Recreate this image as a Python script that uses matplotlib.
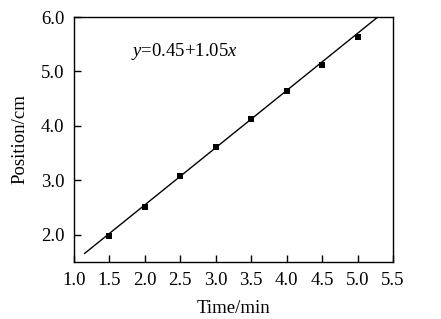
import matplotlib
matplotlib.use('Agg')
import matplotlib.pyplot as plt
import numpy as np

# data
time_min = [1.5, 2.0, 2.5, 3.0, 3.5, 4.0, 4.5, 5.0]
position_cm = [1.97, 2.51, 3.08, 3.61, 4.12, 4.64, 5.11, 5.63]
fit_a = 0.45
fit_b = 1.05
x_ticks = [1.0, 1.5, 2.0, 2.5, 3.0, 3.5, 4.0, 4.5, 5.0, 5.5]
y_ticks = [2.0, 3.0, 4.0, 5.0, 6.0]

plt.rcParams['font.family'] = 'Liberation Serif'
plt.rcParams['mathtext.fontset'] = 'custom'
plt.rcParams['mathtext.rm'] = 'Liberation Serif'
plt.rcParams['mathtext.it'] = 'Liberation Serif:italic'

fig = plt.figure(figsize=(4.41, 3.19), dpi=100)
ax = fig.add_axes([74 / 441, 1 - 262 / 319, 319 / 441, 245 / 319])

fx = np.array([1.15, 5.4])
ax.plot(fx, fit_a + fit_b * fx, color='black', lw=1.0)
ax.plot(time_min, position_cm, 's', color='black', ms=5, mew=0)

ax.set_xlim(1.0, 5.5)
ax.set_ylim(1.5, 6.0)
ax.set_xticks(x_ticks)
ax.set_xticklabels([f'{v:.1f}' for v in x_ticks])
ax.set_yticks(y_ticks)
ax.set_yticklabels([f'{v:.1f}' for v in y_ticks])
ax.tick_params(direction='in', length=5, width=1, labelsize=13.5, pad=7)
for s in ax.spines.values():
    s.set_linewidth(1.0)

ax.set_xlabel('Time/min', fontsize=13.5, labelpad=8)
ax.set_ylabel('Position/cm', fontsize=13.5, labelpad=9)

ax.text(1.8, 5.36, r'$y$=0.45+1.05$x$', fontsize=13.5, va='center')

fig.savefig('out.png', dpi=100)
